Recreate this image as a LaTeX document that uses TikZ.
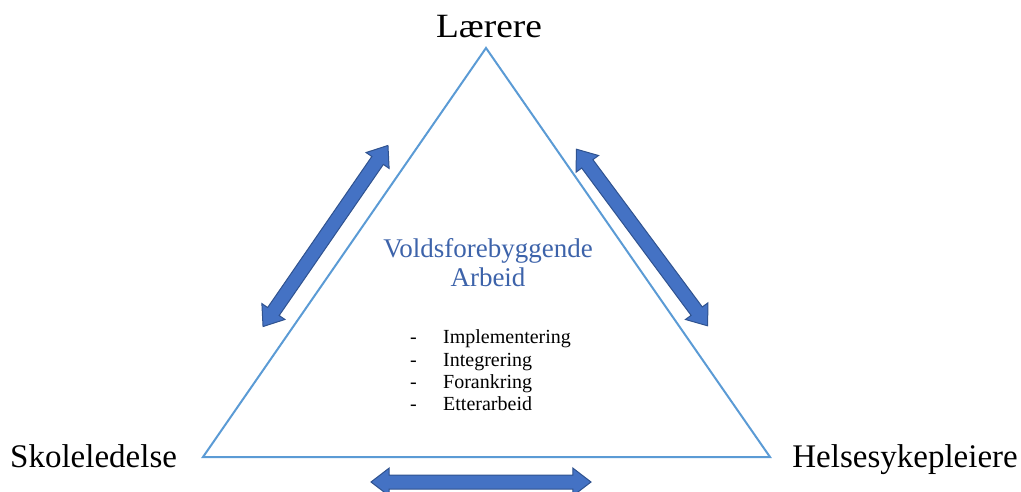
\documentclass[tikz,border=0pt]{standalone}
\usepackage{fontspec}
\setmainfont{Liberation Serif}
\usetikzlibrary{shapes.arrows}
\definecolor{triblue}{HTML}{5B9BD5}
\definecolor{arrfill}{HTML}{4472C4}
\definecolor{arrdraw}{HTML}{2F528F}
\definecolor{titleblue}{HTML}{3D63AA}
\begin{document}
\begin{tikzpicture}[x=1pt,y=-1pt,
  tri/.style={draw=triblue,line width=2pt,line join=miter},
  corner/.style={inner sep=0pt,font=\fontsize{33}{40}\selectfont},
  titletext/.style={inner sep=0pt,text=titleblue,font=\fontsize{27}{32}\selectfont},
  itemtext/.style={inner sep=0pt,font=\fontsize{20}{23}\selectfont,anchor=base west},
  dblarrow/.style={double arrow,fill=arrfill,draw=arrdraw,line width=1pt,
    minimum height=220pt,minimum width=28pt,inner xsep=0pt,inner ysep=6.5pt,
    double arrow head extend=7pt,double arrow head indent=0pt,double arrow tip angle=75}]
\useasboundingbox (0,0) rectangle (1021,492);
\coordinate (T) at (486,48);
\coordinate (L) at (203,457);
\coordinate (R) at (770,457);
\draw[tri] (T) -- (L) -- (R) -- cycle;
\node[corner,anchor=base,font=\fontsize{34}{40}\selectfont] (laerere) at (489,38) {\scalebox{1.1}[1]{Lærere}};
\node[corner,anchor=base west] (skole) at (10,467) {Skoleledelse};
\node[corner,anchor=base east] (helse) at (1018,467) {Helsesykepleiere};
\node[titletext,anchor=base] (t1) at (488,257) {Voldsforebyggende};
\node[titletext,anchor=base] (t2) at (488,287) {Arbeid};
\node[itemtext] (d1) at (410,343) {-};
\node[itemtext] (d2) at (410,366) {-};
\node[itemtext] (d3) at (410,388) {-};
\node[itemtext] (d4) at (410,410) {-};
\node[itemtext] (i1) at (443,343) {Implementering};
\node[itemtext] (i2) at (443,366) {Integrering};
\node[itemtext] (i3) at (443,388) {Forankring};
\node[itemtext] (i4) at (443,410) {Etterarbeid};
\node[dblarrow,rotate=55.4] (a1) at (325.5,236) {};
\node[dblarrow,rotate=126.6] (a2) at (642,237.5) {};
\node[dblarrow] (a3) at (481,482) {};
\end{tikzpicture}
\end{document}
